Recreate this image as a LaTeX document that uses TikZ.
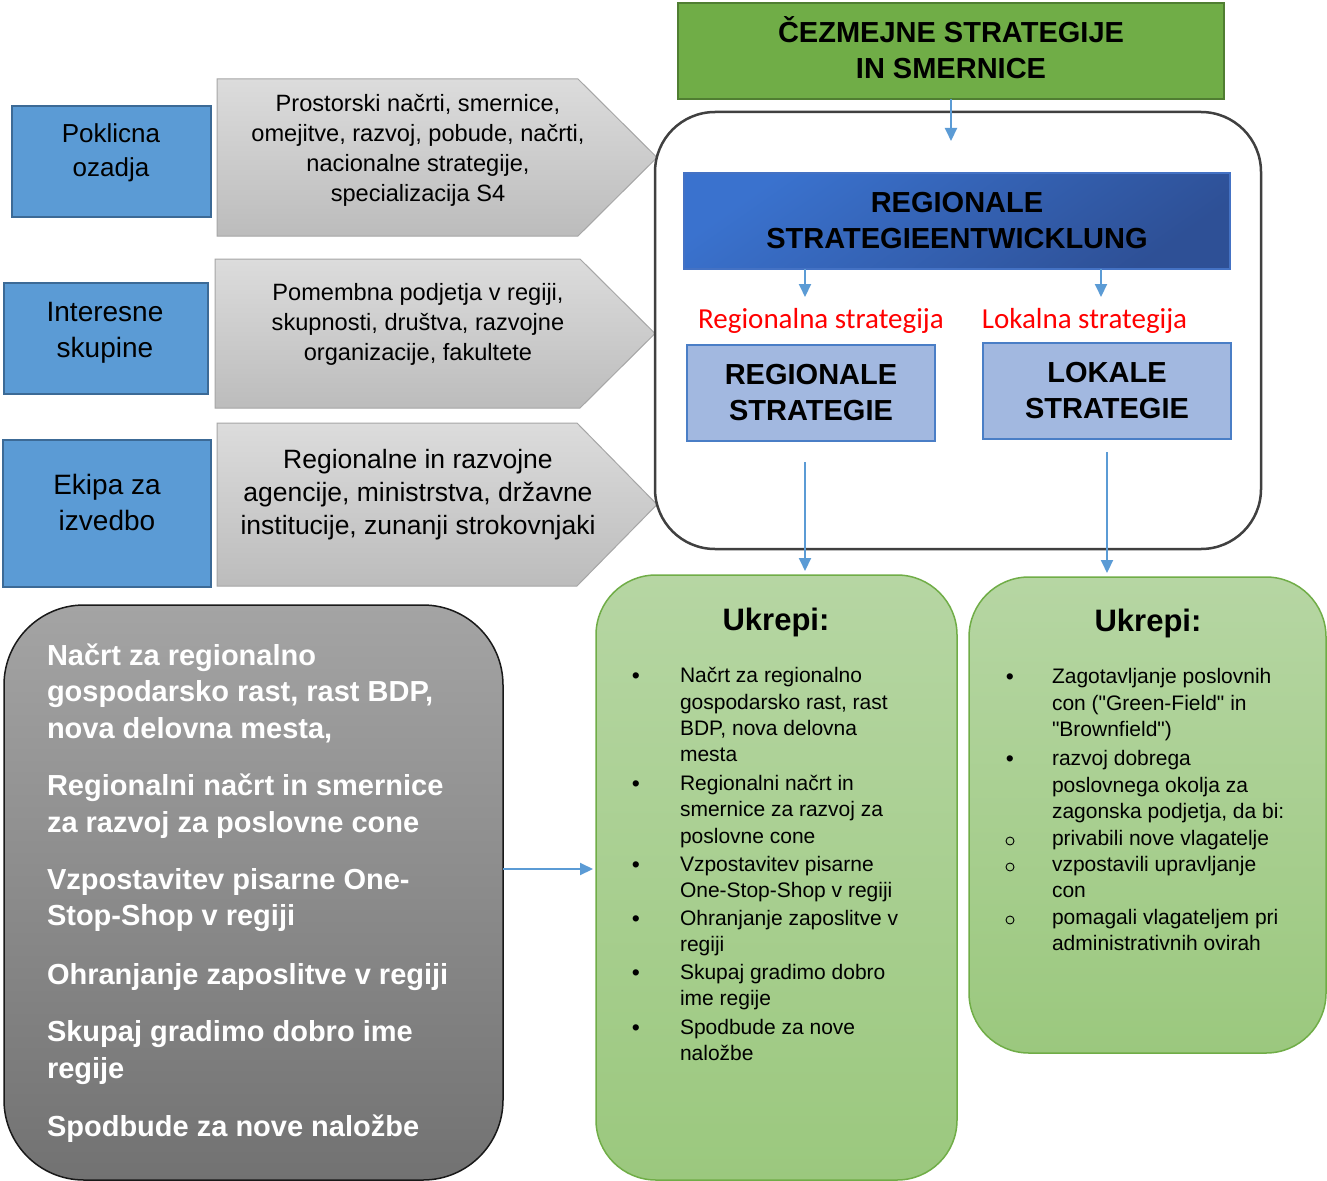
\documentclass[tikz,border=0pt]{standalone}
\usepackage{fontspec}
\setmainfont{Liberation Sans}[Ligatures=TeXOff]
\newfontfamily\calibfont{Carlito}
\newfontfamily\bulmono{Liberation Mono}
\usetikzlibrary{arrows.meta}

\definecolor{bfill}{HTML}{5B9BD5}
\definecolor{bbord}{HTML}{3C6A96}
\definecolor{chtop}{HTML}{DCDCDC}
\definecolor{chbot}{HTML}{BCBCBC}
\definecolor{chbord}{HTML}{A6A6A6}
\definecolor{czfill}{HTML}{70AD47}
\definecolor{czbord}{HTML}{507E32}
\definecolor{arrblue}{HTML}{5B9BD5}
\definecolor{frame}{HTML}{404040}
\definecolor{hdrA}{HTML}{3A72CE}
\definecolor{hdrB}{HTML}{2E5096}
\definecolor{hdrbord}{HTML}{4472C4}
\definecolor{lbfill}{HTML}{A2B8E0}
\definecolor{lbbord}{HTML}{4A7EC6}
\definecolor{gtop}{HTML}{B6D6A3}
\definecolor{gbot}{HTML}{9BC87E}
\definecolor{gbord}{HTML}{70AD47}
\definecolor{grtop}{HTML}{A4A4A4}
\definecolor{grbot}{HTML}{727272}
\definecolor{redlab}{HTML}{FF0000}

\begin{document}
\begin{tikzpicture}[x=1pt,y=-1pt,
  every node/.style={inner sep=0pt,outer sep=0pt},
  arr/.style={draw=arrblue,line width=2pt,-{Triangle[length=13pt,width=12pt]}},
  bluebox/.style={draw=bbord,line width=2pt,fill=bfill},
  chev/.style={draw=chbord,line width=1pt,top color=chtop,bottom color=chbot},
  chevtext/.style={align=center,font=\fontsize{23.6}{30}\selectfont},
  sidetext/.style={align=center,font=\fontsize{28}{36}\selectfont},
  bigbold/.style={align=center,font=\bfseries\fontsize{29}{36}\selectfont},
  lightbox/.style={draw=lbbord,line width=2pt,fill=lbfill,minimum width=248pt,minimum height=96pt,bigbold},
  redtext/.style={text=redlab,font=\calibfont\fontsize{29}{34}\selectfont},
  greenbox/.style={draw=gbord,line width=1.5pt,rounded corners=60pt,top color=gtop,bottom color=gbot},
  ukrepi/.style={font=\bfseries\fontsize{31}{36}\selectfont},
  listline/.style={anchor=base west,font=\fontsize{21}{26}\selectfont},
  bul/.style={anchor=base,font=\fontsize{23}{26}\selectfont},
  grayline/.style={anchor=base west,text=white,font=\bfseries\fontsize{29}{36}\selectfont}
]
\useasboundingbox (0,0) rectangle (1327,1180);
\fill[white] (0,0) rectangle (1327,1180);

% gray chevrons with their descriptions
\draw[chev] (217,79) -- (578,79) -- (657,157.5) -- (578,236) -- (217,236) -- cycle;
\draw[chev] (215,259) -- (580,259) -- (655,333.5) -- (580,408) -- (215,408) -- cycle;
\draw[chev] (217,423) -- (577,423) -- (657,504.5) -- (577,586) -- (217,586) -- cycle;
\node[chevtext] (ch1) at (418,150) {Prostorski načrti, smernice,\\omejitve, razvoj, pobude, načrti,\\nacionalne strategije,\\specializacija S4};
\node[chevtext] (ch2) at (418,324) {Pomembna podjetja v regiji,\\skupnosti, društva, razvojne\\organizacije, fakultete};
\node[align=center,font=\fontsize{26.5}{33}\selectfont] (ch3) at (418,495) {Regionalne in razvojne\\agencije, ministrstva, državne\\institucije, zunanji strokovnjaki};

% blue side boxes
\node[bluebox,minimum width=199pt,minimum height=111pt] (pk) at (111.5,161.5) {};
\node[bluebox,minimum width=204pt,minimum height=111pt] (is) at (106,338.5) {};
\node[bluebox,minimum width=208pt,minimum height=147pt] (ek) at (107,513.5) {};
\node[align=center,font=\fontsize{26}{34}\selectfont] (pkt) at (111,153) {Poklicna\\ozadja};
\node[sidetext] (ist) at (105,333) {Interesne\\skupine};
\node[sidetext] (ekt) at (107,502) {Ekipa za\\izvedbo};

% cross-border strategies
\node[draw=czbord,line width=2.5pt,fill=czfill,minimum width=546pt,minimum height=96pt] (cez) at (951,51) {};
\node[bigbold] (cezt) at (951,48) {ČEZMEJNE STRATEGIJE\\IN SMERNICE};

% regional strategy frame
\node[draw=frame,line width=2.5pt,rounded corners=60pt,minimum width=606pt,minimum height=437pt] (frm) at (958,330.5) {};
\node[draw=hdrbord,line width=1.5pt,top color=hdrA,bottom color=hdrB,shading angle=35,minimum width=546pt,minimum height=96pt,bigbold] (hdr) at (957,221) {REGIONALE\\STRATEGIEENTWICKLUNG};
\node[redtext] (rl) at (821,321) {Regionalna strategija};
\node[redtext] (ll) at (1084.5,321) {Lokalna strategija};
\node[lightbox] (rb) at (811,393) {REGIONALE\\STRATEGIE};
\node[lightbox] (lb) at (1107,391) {LOKALE\\STRATEGIE};

% measures, regional
\node[greenbox,minimum width=361pt,minimum height=605pt] (g1) at (776.5,877.5) {};
\node[ukrepi] (u1) at (776,622) {Ukrepi:};
\foreach \y/\t [count=\i] in {
  676/{Načrt za regionalno},
  703/{gospodarsko rast, rast},
  729/{BDP, nova delovna},
  755/{mesta},
  784/{Regionalni načrt in},
  810/{smernice za razvoj za},
  837/{poslovne cone},
  865/{Vzpostavitev pisarne},
  891/{One-Stop-Shop v regiji},
  919/{Ohranjanje zaposlitve v},
  945/{regiji},
  973/{Skupaj gradimo dobro},
  999/{ime regije},
  1028/{Spodbude za nove},
  1054/{naložbe}}
  \node[listline] (ra\i) at (680,\y+6.5) {\t};
\foreach \y [count=\i] in {676,784,865,919,973,1028}
  \node[bul] (rb\i) at (636,\y+7) {•};

% measures, local
\node[greenbox,minimum width=357pt,minimum height=476pt] (g2) at (1147.5,815) {};
\node[ukrepi] (u2) at (1148,623) {Ukrepi:};
\foreach \y/\t [count=\i] in {
  677/{Zagotavljanje poslovnih},
  704/{con ("Green-Field" in},
  730/{"Brownfield")},
  759/{razvoj dobrega},
  786/{poslovnega okolja za},
  812/{zagonska podjetja, da bi:},
  839/{privabili nove vlagatelje},
  865/{vzpostavili upravljanje},
  891/{con},
  918/{pomagali vlagateljem pri},
  944/{administrativnih ovirah}}
  \node[listline] (la\i) at (1052,\y+6.5) {\t};
\foreach \y [count=\i] in {677,759}
  \node[bul] (lbb\i) at (1010,\y+7) {•};
\foreach \y [count=\i] in {839,865,918}
  \node[draw=black,line width=0.9pt,circle,minimum size=8pt] (lbo\i) at (1010,\y+2) {};

% goals
\node[draw=black!90,line width=1.5pt,rounded corners=80pt,top color=grtop,bottom color=grbot,minimum width=499pt,minimum height=575pt] (gray) at (253.5,892.5) {};
\foreach \y/\t [count=\i] in {
  656/{Načrt za regionalno},
  692/{gospodarsko rast, rast BDP,},
  729/{nova delovna mesta,},
  786/{Regionalni načrt in smernice},
  823/{za razvoj za poslovne cone},
  880/{Vzpostavitev pisarne One-},
  916/{Stop-Shop v regiji},
  975/{Ohranjanje zaposlitve v regiji},
  1032/{Skupaj gradimo dobro ime},
  1069/{regije},
  1127/{Spodbude za nove naložbe}}
  \node[grayline] (gl\i) at (47,\y+9.5) {\t};

% connectors
\coordinate (ca) at (951,141);
\coordinate (ra) at (805,297);
\coordinate (la) at (1101,297);
\coordinate (rs) at (805,462);
\coordinate (ls) at (1107,452);
\coordinate (ay) at (0,869);
\draw[arr] (cez.south) -- (ca);
\draw[arr] (hdr.south -| ra) -- (ra);
\draw[arr] (hdr.south -| la) -- (la);
\draw[arr,shorten >=4pt] (rs) -- (rs |- g1.north);
\draw[arr,shorten >=4pt] (ls) -- (ls |- g2.north);
\draw[arr,shorten >=3pt] (gray.east |- ay) -- (g1.west |- ay);
\end{tikzpicture}
\end{document}
